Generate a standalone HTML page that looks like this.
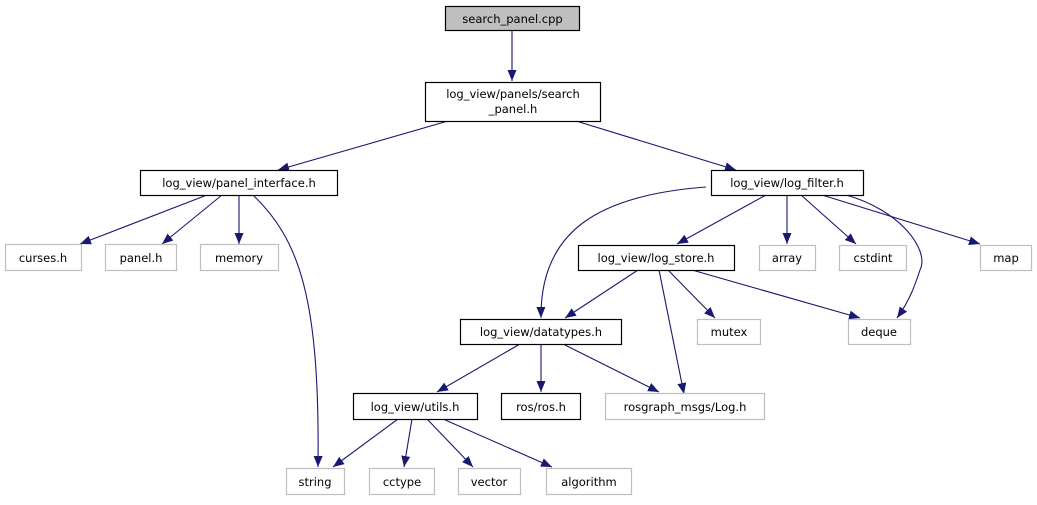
<!DOCTYPE html>
<html><head><meta charset="utf-8"><style>
html,body{margin:0;padding:0;background:#fff}
svg text{font-family:"DejaVu Sans","Liberation Sans",sans-serif;font-size:11.5px;fill:#000}
</style></head><body>
<svg width="1037" height="500" viewBox="0 0 1037 500" xmlns="http://www.w3.org/2000/svg">
<defs>
<marker id="a" markerUnits="userSpaceOnUse" markerWidth="12" markerHeight="10" refX="11" refY="4.5" orient="auto">
<path d="M0,0 L11,4.5 L0,9 Z" fill="#191970"/>
</marker>
</defs>
<g fill="none" stroke="#191970" stroke-width="1.1" marker-end="url(#a)">
<path d="M512,30 L512,81"/>
<path d="M448,121 L278,170"/>
<path d="M576,121 L736,170"/>
<path d="M207,195 L80,244"/>
<path d="M222,195 L162,244"/>
<path d="M239,195 L239,244"/>
<path d="M253,195 C300,240 320,300 318,467"/>
<path d="M706,187 C600,195 540,230 541,318"/>
<path d="M766,195 L677,244"/>
<path d="M787,195 L787,244"/>
<path d="M801,195 L856,244"/>
<path d="M822,195 L980,244"/>
<path d="M846,195 C900,210 930,250 920,270 C915,285 910,300 897,318"/>
<path d="M638,270 L565,318"/>
<path d="M659,270 L684,394"/>
<path d="M668,270 L715,318"/>
<path d="M692,270 L860,318"/>
<path d="M520,344 L437,392"/>
<path d="M541,344 L541,392"/>
<path d="M563,344 L659,392"/>
<path d="M398,419 L333,467"/>
<path d="M412,419 L404,467"/>
<path d="M427,419 L473,467"/>
<path d="M443,419 L552,467"/>
</g>
<g stroke-width="1.2">
<rect x="445.5" y="6.5" width="134" height="24" fill="#bfbfbf" stroke="#000"/>
<rect x="425.5" y="82.5" width="175" height="39" fill="#fff" stroke="#000"/>
<rect x="140.5" y="170.5" width="197" height="25" fill="#fff" stroke="#000"/>
<rect x="711.5" y="170.5" width="152" height="25" fill="#fff" stroke="#000"/>
<rect x="578.5" y="245.5" width="156" height="25" fill="#fff" stroke="#000"/>
<rect x="460.5" y="319.5" width="161" height="25" fill="#fff" stroke="#000"/>
<rect x="353.5" y="393.5" width="124" height="26" fill="#fff" stroke="#000"/>
<rect x="501.5" y="393.5" width="79" height="26" fill="#fff" stroke="#000"/>
</g>
<g fill="#fff" stroke="#bfbfbf" stroke-width="1.2">
<rect x="5.5" y="244.5" width="76" height="26"/>
<rect x="105.5" y="244.5" width="71" height="26"/>
<rect x="200.5" y="244.5" width="78" height="26"/>
<rect x="759.5" y="245.5" width="56" height="25"/>
<rect x="839.5" y="245.5" width="67" height="25"/>
<rect x="980.5" y="245.5" width="51" height="25"/>
<rect x="697.5" y="319.5" width="63" height="25"/>
<rect x="848.5" y="319.5" width="62" height="25"/>
<rect x="605.5" y="393.5" width="159" height="26"/>
<rect x="286.5" y="468.5" width="58" height="26"/>
<rect x="369.5" y="468.5" width="65" height="26"/>
<rect x="458.5" y="468.5" width="62" height="26"/>
<rect x="546.5" y="468.5" width="85" height="26"/>
</g>
<g text-anchor="middle">
<text x="512.5" y="23">search_panel.cpp</text>
<text x="513" y="98">log_view/panels/search</text>
<text x="513" y="113">_panel.h</text>
<text x="239" y="187">log_view/panel_interface.h</text>
<text x="787" y="187">log_view/log_filter.h</text>
<text x="656" y="262">log_view/log_store.h</text>
<text x="541" y="336">log_view/datatypes.h</text>
<text x="415" y="411">log_view/utils.h</text>
<text x="541" y="411">ros/ros.h</text>
<text x="43" y="262">curses.h</text>
<text x="141" y="262">panel.h</text>
<text x="239" y="262">memory</text>
<text x="787" y="262">array</text>
<text x="873" y="262">cstdint</text>
<text x="1006" y="262">map</text>
<text x="729" y="336">mutex</text>
<text x="879" y="336">deque</text>
<text x="685" y="411">rosgraph_msgs/Log.h</text>
<text x="315" y="486">string</text>
<text x="402" y="486">cctype</text>
<text x="489" y="486">vector</text>
<text x="589" y="486">algorithm</text>
</g>
</svg>
</body></html>
